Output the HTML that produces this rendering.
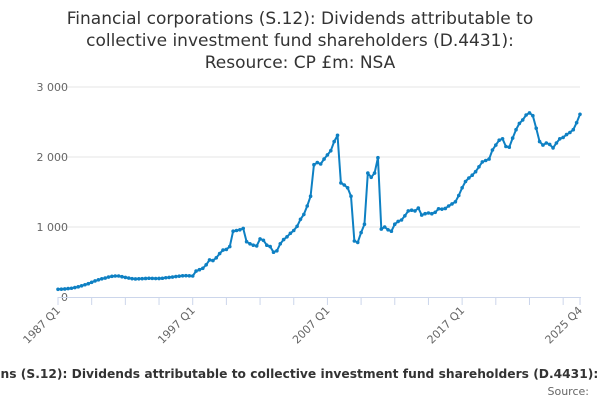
<!DOCTYPE html>
<html><head><meta charset="utf-8"><style>
body{margin:0;width:600px;height:400px;overflow:hidden;background:#fff;font-family:"Liberation Sans","DejaVu Sans",sans-serif}
svg{position:absolute;left:0;top:0}
</style></head><body>
<svg id="chart" width="600" height="400">
<g font-family="DejaVu Sans, sans-serif" font-size="17" fill="#333" text-anchor="middle">
<text x="300" y="24">Financial corporations (S.12): Dividends attributable to</text>
<text x="300" y="46">collective investment fund shareholders (D.4431):</text>
<text x="300" y="68">Resource: CP £m: NSA</text>
</g>
<text x="309.5" y="378" text-anchor="middle" font-family="DejaVu Sans, sans-serif" font-size="12.25" font-weight="bold" fill="#333">Financial corporations (S.12): Dividends attributable to collective investment fund shareholders (D.4431): Resource: CP £m: NSA</text>
<text x="589" y="395" text-anchor="end" font-family="DejaVu Sans, sans-serif" font-size="11" fill="#666">Source:</text>
</svg>
<script>
const values=[110,112,115,120,125,135,145,160,175,190,210,230,245,260,270,285,295,300,300,290,280,270,262,258,260,262,265,268,266,264,265,268,275,280,285,292,298,303,305,302,300,370,390,410,460,530,520,560,620,670,680,720,940,950,960,980,790,760,740,730,830,810,740,720,640,660,760,820,860,910,950,1010,1110,1180,1300,1440,1890,1920,1900,1970,2030,2090,2220,2310,1630,1600,1560,1440,800,780,920,1040,1770,1710,1770,1990,970,1000,960,940,1040,1080,1100,1160,1230,1240,1230,1270,1170,1190,1200,1190,1210,1260,1255,1265,1300,1330,1360,1450,1560,1650,1700,1740,1790,1860,1930,1950,1970,2100,2170,2240,2260,2150,2140,2270,2390,2480,2530,2600,2630,2590,2410,2220,2170,2200,2180,2130,2200,2260,2280,2320,2350,2390,2490,2610];
const yTicks=[0,1000,2000,3000];
const yTickLabels=["0","1 000","2 000","3 000"];
const xLabelIdx=[0,40,80,120,155];
const xLabels=["1987 Q1","1997 Q1","2007 Q1","2017 Q1","2025 Q4"];
const NS="http://www.w3.org/2000/svg";
const svg=document.getElementById('chart');
const x0=58,x1=580,yBase=297,yPer=0.07;
const X=i=>x0+i*(x1-x0)/(values.length-1);
const Y=v=>yBase-v*yPer;
function mk(t,a){const e=document.createElementNS(NS,t);for(const k in a)e.setAttribute(k,a[k]);svg.appendChild(e);return e;}
yTicks.forEach((v,k)=>{
 if(v>0){const g=mk('line',{x1:x0,x2:x1,y1:Y(v),y2:Y(v),stroke:'#e6e6e6','stroke-width':1});
 
 }
 const t=mk('text',{x:68,y:Y(v)+4,'text-anchor':'end','font-size':11,fill:'#666','font-family':'DejaVu Sans, sans-serif'});
 t.textContent=yTickLabels[k];
 
 
});
const ax=mk('line',{x1:x0,x2:x1+1,y1:yBase+0.5,y2:yBase+0.5,stroke:'#ccd6eb','stroke-width':1});


for(let i=0;i<values.length;i+=10){
 const tk=mk('line',{x1:X(i),x2:X(i),y1:yBase,y2:yBase+8,stroke:'#ccd6eb'});
 
 
}
const lt=mk('line',{x1:X(values.length-1),x2:X(values.length-1),y1:yBase,y2:yBase+8,stroke:'#ccd6eb'});


xLabelIdx.forEach((idx,k)=>{
 const xx=X(idx)+3,yy=yBase+14;
 const t=mk('text',{x:xx,y:yy,'text-anchor':'end','font-size':11,fill:'#666','font-family':'DejaVu Sans, sans-serif',transform:`rotate(-45 ${xx} ${yy})`});
 t.textContent=xLabels[k];
 
 
});
const p=mk('polyline',{points:values.map((v,i)=>X(i)+','+Y(v)).join(' '),fill:'none',stroke:'#0e80c3','stroke-width':2,'stroke-linejoin':'round'});


values.forEach((v,i)=>{
 const c=mk('circle',{cx:X(i),cy:Y(v),r:1.8,fill:'#0e80c3'});
 
 
});
</script>
</body></html>
